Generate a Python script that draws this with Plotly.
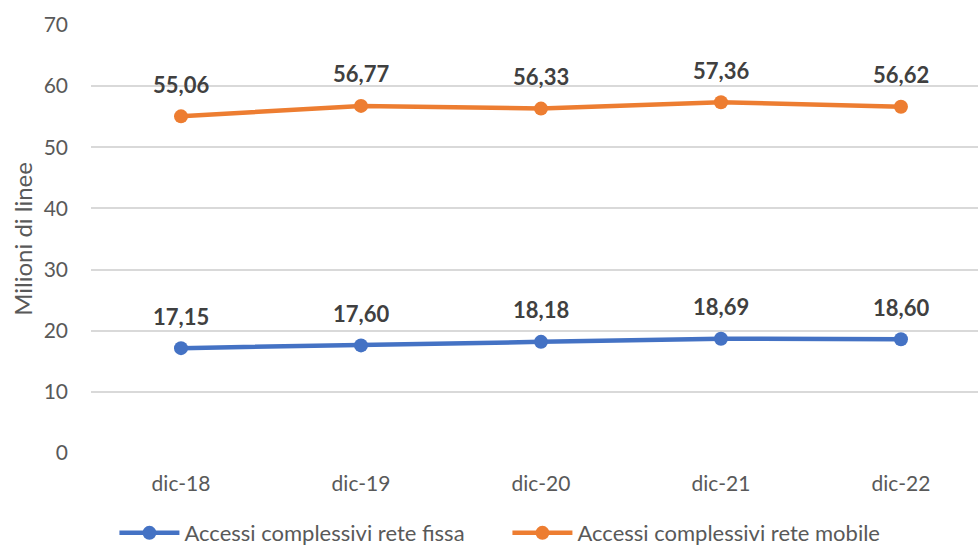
import plotly.graph_objects as go

categories = ["dic-18", "dic-19", "dic-20", "dic-21", "dic-22"]
rete_fissa = [17.15, 17.60, 18.18, 18.69, 18.60]
rete_mobile = [55.06, 56.77, 56.33, 57.36, 56.62]
series_names = ["Accessi complessivi rete fissa", "Accessi complessivi rete mobile"]
y_ticks = [0, 10, 20, 30, 40, 50, 60, 70]
y_title = "Milioni di linee"

FONT = "Lato, Open Sans, sans-serif"
BLUE = "#4472C4"
ORANGE = "#ED7D31"


def fmt(v):
    return f"{v:.2f}".replace(".", ",")


fig = go.Figure()
for name, vals, color in [(series_names[0], rete_fissa, BLUE),
                          (series_names[1], rete_mobile, ORANGE)]:
    fig.add_trace(go.Scatter(
        x=categories, y=vals, name=name, mode="lines+markers",
        line=dict(color=color, width=4.5),
        marker=dict(color=color, size=14),
    ))
    for c, v in zip(categories, vals):
        fig.add_annotation(
            x=c, y=v, text=f"<b>{fmt(v)}</b>", showarrow=False,
            yshift=32, font=dict(family=FONT, size=22, color="#404040"),
        )

# vertical axis title, placed left of the tick labels
fig.add_annotation(
    xref="paper", yref="paper", x=-0.078, y=0.5,
    xanchor="center", yanchor="middle", textangle=-90,
    text=y_title, showarrow=False,
    font=dict(family=FONT, size=24, color="#595959"),
)

fig.update_layout(
    width=978, height=548,
    margin=dict(l=91, r=0, t=25, b=95, autoexpand=False),
    paper_bgcolor="white", plot_bgcolor="white",
    showlegend=True,
    legend=dict(orientation="h", xref="container", x=0.117, xanchor="left",
                yref="paper", y=-0.187, yanchor="middle",
                bgcolor="rgba(0,0,0,0)",
                font=dict(family=FONT, size=22, color="#595959"),
                itemwidth=60, tracegroupgap=0, entrywidth=318,
                entrywidthmode="pixels"),
    xaxis=dict(
        type="category", range=[-0.5, 4.428],
        showgrid=False, showline=False, zeroline=False,
        ticks="", ticklabelstandoff=16,
        tickfont=dict(family=FONT, size=21, color="#595959"),
    ),
    yaxis=dict(
        range=[0, 70], tickvals=y_ticks,
        showgrid=True, gridcolor="#D9D9D9", gridwidth=1.5,
        zeroline=False, showline=False, ticks="",
        tickfont=dict(family=FONT, size=21, color="#595959"),
        ticklabelstandoff=22,
    ),
)

fig.write_html("out.html")
